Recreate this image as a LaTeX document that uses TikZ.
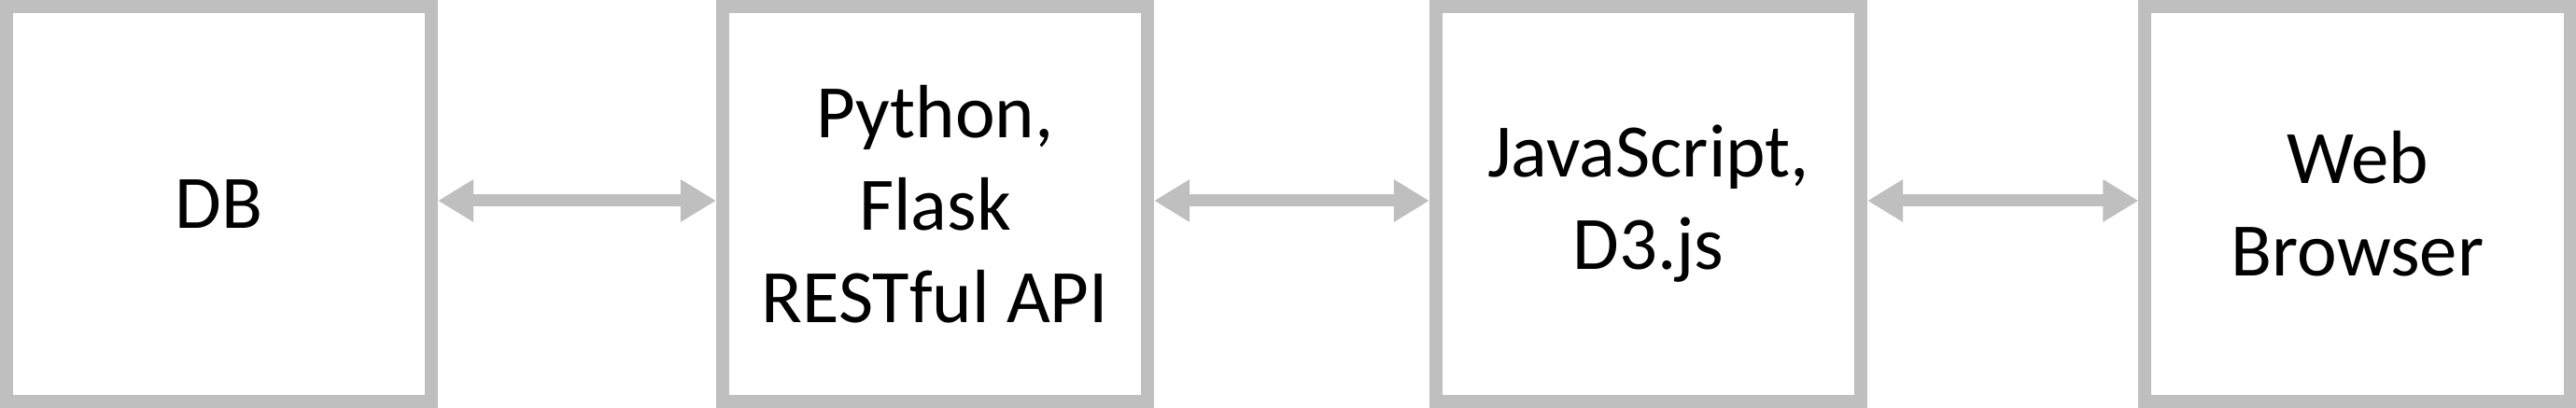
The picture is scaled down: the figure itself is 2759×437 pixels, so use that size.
\documentclass[tikz,border=0pt]{standalone}
\usepackage{fontspec}
\setmainfont{Carlito}
\usetikzlibrary{arrows.meta}
\definecolor{boxgray}{RGB}{191,191,191}
\tikzset{
  px/.style={x=0.01cm,y=-0.01cm},
  tierbox/.style={draw=boxgray, line width=0.14cm, fill=white, minimum width=4.55cm, minimum height=4.23cm, inner sep=0pt, align=center, text=black, font=\fontsize{23}{28.2}\selectfont},
  conn/.style={draw=boxgray, line width=0.13cm, {Triangle[length=0.38cm,width=0.43cm]}-{Triangle[length=0.38cm,width=0.43cm]}}
}
\begin{document}
\begin{tikzpicture}[px]
\useasboundingbox (0,0) rectangle (2759,437);
\node[tierbox] (db) at (234.5,218.5) {DB};
\node[tierbox] (api) at (1001.5,218.5) {Python,\\Flask\\RESTful API};
\node[tierbox] (js) at (1765.5,218.5) {JavaScript,\\D3.js};
\node[tierbox] (web) at (2525,218.5) {Web\\Browser};
\draw[conn] ([yshift=0.035cm]db.east) -- ([yshift=0.035cm]api.west);
\draw[conn] ([yshift=0.035cm]api.east) -- ([yshift=0.035cm]js.west);
\draw[conn] ([yshift=0.035cm]js.east) -- ([yshift=0.035cm]web.west);
\end{tikzpicture}
\end{document}
